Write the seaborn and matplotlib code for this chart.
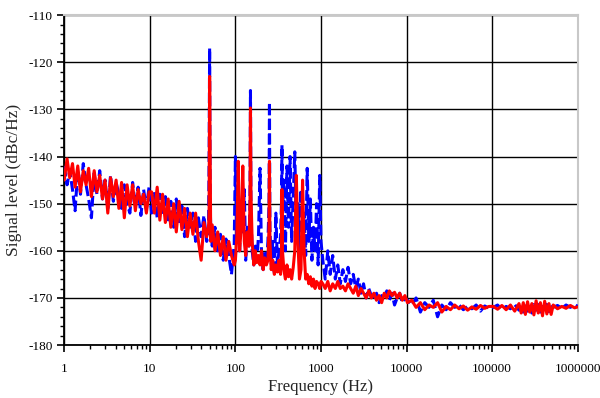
import matplotlib
matplotlib.use("Agg")
import matplotlib.pyplot as plt
import matplotlib.ticker as mticker
import seaborn as sns

# frequency grid (Hz)
freq = [
    1.0, 1.08, 1.16, 1.25, 1.34, 1.44, 1.55, 1.67, 1.8, 1.93, 2.08, 2.24, 2.41, 2.6, 2.8, 3.0,
    3.23, 3.48, 3.75, 4.04, 4.35, 4.68, 5.04, 5.43, 5.85, 6.3, 6.78, 7.3, 7.87, 8.47, 9.12, 9.8,
    10.5, 11.3, 12.2, 13.1, 14.1, 15.2, 16.4, 17.6, 19.0, 20.4, 22.0, 23.7, 25.5, 27.5, 29.6,
    31.9, 34.3, 37.0, 39.8, 42.9, 46.2, 48.5, 49.3, 50.0, 50.7, 51.5, 53.6, 57.7, 62.1, 66.9,
    72.1, 77.6, 83.6, 90.0, 96.9,
    100, 104, 108, 112, 117, 122, 127, 132, 138, 144, 148, 150, 152, 157, 164, 171, 178, 186,
    194, 202, 211, 220, 230, 240, 247, 250, 253, 262, 273, 285, 297, 310, 323, 337, 345, 350,
    355, 368, 384, 400, 417, 435, 454, 474, 494, 515, 537, 560, 584, 609, 635, 662, 690, 720,
    751, 783, 817, 852, 888, 926, 966, 1000,
    1050, 1120, 1200, 1280, 1370, 1470, 1570, 1680, 1800, 1930, 2070, 2220, 2380, 2550, 2730,
    2930, 3140, 3370, 3610, 3870, 4150, 4450, 4770, 5110, 5480, 5870, 6290, 6740, 7230, 7750,
    8310, 8910, 9550,
    10240, 11500, 12900, 14500, 16300, 18300, 20500, 23000, 25800, 29000, 32500, 36500, 41000,
    46000, 51600, 57900, 65000, 72900, 81800, 91800,
    103000, 115600, 129700, 145500, 163300, 183200, 205600, 218000, 230700, 244000, 258800,
    274000, 290400, 307000, 325800, 345000, 365600, 387000, 410200, 435000, 460200, 488000,
    516400, 579400, 650100, 729400, 818400, 918300, 1000000,
]

# blue dashed trace (dBc/Hz)
blue_level = [
    -142, -146, -143, -147, -151.5, -143, -148, -141.5, -146, -149, -153, -143.5, -148, -143,
    -149, -145, -151, -144, -149.5, -145.5, -148, -151, -146, -150, -152, -145.5, -150.5,
    -146.5, -152.5, -147, -151, -146.5,
    -152, -147.5, -153, -148, -152.5, -148.5, -154, -149.5, -155, -149, -154.5, -150.5, -157,
    -151, -155, -152, -158, -153, -157, -152.5, -158, -156, -140, -117, -150, -155, -159, -155,
    -160, -156.5, -162, -157.5, -161, -165, -158.5,
    -140, -158, -146, -160, -150, -156, -147, -162, -155, -159, -150, -126, -152, -160, -163,
    -159, -162, -157, -142.5, -161, -164, -160, -163, -158, -150, -128.5, -155, -163, -158, -165,
    -152, -163, -160, -157, -150, -137.6, -152, -145, -160, -142, -155, -140, -158, -148, -139,
    -156, -150, -160, -147, -158, -152, -161, -142.5, -158, -149, -162, -155, -160, -150, -163,
    -144, -158,
    -162, -166, -160, -165, -161, -166, -163, -167, -164, -166.5, -163.5, -167, -165, -168, -166,
    -169, -167, -170, -168, -169.5, -170.5, -169, -171, -169.5, -170, -168.5, -170.5, -169,
    -171.5, -170, -169, -171, -170,
    -170.5, -171.5, -170, -173, -171, -172, -170.5, -174, -171.5, -172.5, -171, -172, -171.5,
    -172.5, -171.8, -172.3, -171.5, -172.8, -171.7, -172.2,
    -172, -171.5, -172.5, -171.8, -172.3, -171.4, -172.6, -171.5, -173, -171.2, -172.8, -171.6,
    -173.2, -171.4, -172.6, -171, -173, -171.8, -172.4, -170.8, -172.9, -171.5, -172, -171.6,
    -172.2, -171.5, -172, -171.4, -171.8,
]

# red solid trace (dBc/Hz)
red_level = [
    -145, -140.5, -144.5, -141.5, -146.5, -142, -147.5, -143, -146, -142.5, -148.5, -143,
    -147.5, -144, -149, -145, -152, -144.5, -148.5, -145, -151, -145.5, -153, -146, -150.5,
    -146, -151.5, -147, -150, -148, -152, -147.5,
    -147.5, -152, -146.5, -153.5, -148, -154, -149, -155, -150, -156, -149.5, -155.5, -151,
    -157, -152, -156.5, -152, -158, -162, -154, -157, -155, -152, -123, -140, -158, -154.5,
    -160, -156, -161, -157, -162, -158, -161, -163,
    -162, -157, -141, -160, -155, -142, -158, -161, -156, -159, -150, -129.7, -148, -158, -163,
    -160, -162.5, -161, -163, -160, -164, -161.5, -163, -162, -155, -141, -158, -164, -162, -165,
    -163, -164.5, -162, -165, -160, -147, -160, -164, -166, -163, -165.5, -164, -166, -163.5,
    -160, -144, -158, -166, -164, -145, -160, -166, -165, -167, -165.5, -167.5, -166, -168,
    -166.5, -167, -168, -166.5,
    -167, -168, -166.5, -168.5, -167, -168, -166.5, -168, -167.5, -168.5, -167, -168, -169,
    -167.5, -169.5, -168, -169, -170, -168.5, -170, -169, -170.5, -169.5, -171, -169, -170,
    -168.5, -169.5, -168.8, -170, -169, -170.5, -169.5,
    -171, -170.5, -172, -171, -172.5, -171.5, -172, -171, -173, -171.8, -172.5, -171.5, -172.3,
    -171.7, -172.6, -171.9, -172.4, -171.6, -172.2, -171.8,
    -171.8, -172.4, -171.6, -172.5, -171.5, -172.8, -171.2, -173.2, -171, -173.5, -170.8, -173,
    -171.2, -173.6, -170.6, -173.2, -171, -173.8, -170.7, -173.4, -171.2, -173.5, -171.5,
    -172.3, -171.8, -172.2, -171.6, -172.1, -171.9,
]

x_ticks = [1, 10, 100, 1000, 10000, 100000, 1000000]
y_ticks = [-180, -170, -160, -150, -140, -130, -120, -110]

sns.set_style("white")
plt.rcParams["font.family"] = ["Liberation Serif", "DejaVu Serif"]
plt.rcParams["axes.unicode_minus"] = False

fig = plt.figure(figsize=(6, 3.98), dpi=100)
ax = fig.add_axes([0.107, 0.133, 0.856, 0.829])

sns.lineplot(x=freq, y=blue_level, ax=ax, color="#0000ff", linewidth=2.2,
             linestyle=(0, (3.5, 1.3)), sort=False, estimator=None, zorder=3)
sns.lineplot(x=freq, y=red_level, ax=ax, color="#ff0000", linewidth=2.2,
             sort=False, estimator=None, zorder=4)

ax.set_xscale("log")
ax.set_xlim(1, 1000000)
ax.set_ylim(-180, -110)
ax.xaxis.set_major_locator(mticker.FixedLocator(x_ticks))
ax.xaxis.set_major_formatter(mticker.FixedFormatter([str(t) for t in x_ticks]))
ax.xaxis.set_minor_locator(mticker.LogLocator(base=10, subs=range(2, 10), numticks=20))
ax.xaxis.set_minor_formatter(mticker.NullFormatter())
ax.yaxis.set_major_locator(mticker.FixedLocator(y_ticks))
ax.yaxis.set_minor_locator(mticker.MultipleLocator(2))

ax.grid(True, which="major", color="black", linewidth=1.0, zorder=1)
ax.set_axisbelow(True)
ax.tick_params(which="both", direction="out", colors="black", labelsize=9.5, left=True, bottom=True)
ax.tick_params(which="major", length=5, width=1.2)
ax.tick_params(which="minor", length=3, width=1.0)
ax.tick_params(axis="x", pad=8)

for side in ["left", "bottom"]:
    ax.spines[side].set_color("black")
    ax.spines[side].set_linewidth(1.3)
for side in ["top", "right"]:
    ax.spines[side].set_color("#c8c8c8")
    ax.spines[side].set_linewidth(1.5)

ax.set_xlabel("Frequency (Hz)", fontsize=12, labelpad=3)
ax.set_ylabel("Signal level (dBc/Hz)", fontsize=12.5, labelpad=4)

fig.savefig("out.png", dpi=100)
